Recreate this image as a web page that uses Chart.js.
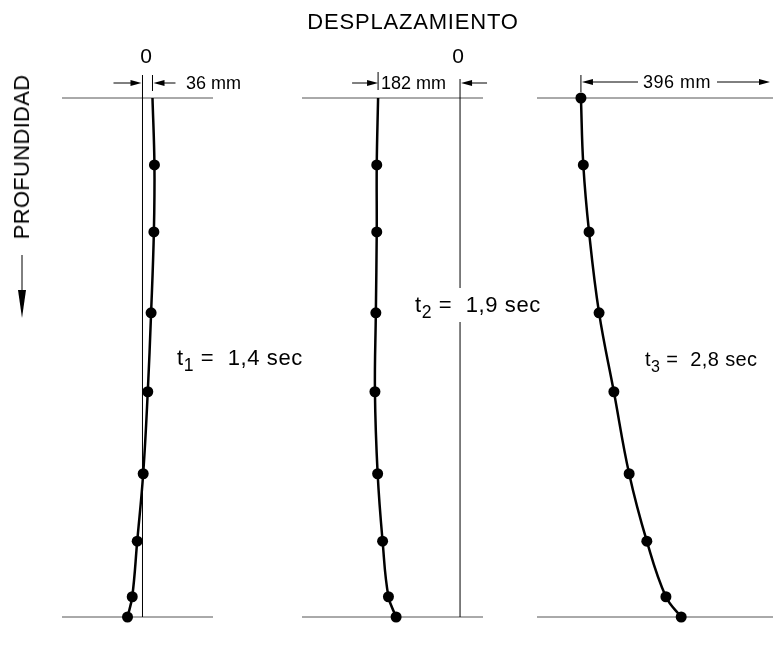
<!DOCTYPE html>
<html>
<head>
<meta charset="utf-8">
<script src="https://cdn.jsdelivr.net/npm/chart.js@4.4.1/dist/chart.umd.min.js"></script>
<style>
  body { margin: 0; background: #fff; }
  #wrap { position: relative; width: 773px; height: 645px; overflow: hidden; font-family: "Liberation Sans", Arial, sans-serif; color: #000; }
  #wrap canvas { position: absolute; left: 0; top: 0; }
  .lbl { position: absolute; white-space: nowrap; line-height: 1; }
  .lbl sub { font-size: 0.8em; vertical-align: -0.35em; line-height: 0; }
</style>
</head>
<body>
<div id="wrap">
  <canvas id="c1" width="773" height="645"></canvas>
  <canvas id="c2" width="773" height="645"></canvas>
  <canvas id="c3" width="773" height="645"></canvas>
</div>
<script>
// depth (0 = top, 100 = bottom) of each reading
const depths = [0, 12.9, 25.8, 41.4, 56.6, 72.4, 85.4, 96.1, 100];
// displacement in mm for each instant
const desp1 = [36, 43, 41, 31, 19, 2.5, -19, -37, -54];
const desp2 = [-182, -185, -185, -187, -189, -183, -172, -159, -142];
const desp3 = [-396, -391, -379, -358, -327, -295, -258, -218, -186];
const tiempos = ['1,4', '1,9', '2,8'];

const W = 773, H = 645;
const wrap = document.getElementById('wrap');

function label(html, x, baseline, size, center, extra) {
  const d = document.createElement('div');
  d.className = 'lbl';
  d.innerHTML = html;
  d.style.fontSize = size + 'px';
  d.style.left = x + 'px';
  d.style.top = (baseline - 0.847 * size) + 'px';
  if (center) d.style.transform = 'translateX(-50%)';
  if (extra) Object.assign(d.style, extra);
  wrap.appendChild(d);
  return d;
}

function arrow(ctx, x1, x2, y) {
  // line from x1 to x2, arrow head at x2
  const d = x2 > x1 ? 1 : -1;
  ctx.beginPath();
  ctx.moveTo(x1, y);
  ctx.lineTo(x2 - d * 8, y);
  ctx.stroke();
  ctx.beginPath();
  ctx.moveTo(x2, y);
  ctx.lineTo(x2 - d * 11, y - 3);
  ctx.lineTo(x2 - d * 11, y + 3);
  ctx.closePath();
  ctx.fill();
}

function vline(ctx, x, y1, y2) {
  ctx.beginPath();
  ctx.moveTo(x, y1);
  ctx.lineTo(x, y2);
  ctx.stroke();
}

// right edge of panel 3 stops short of the canvas because Chart.js keeps
// a little room for the points there; the frame lines still run to 773
const panels = [
  {
    id: 'c1', values: desp1, left: 62, right: 213, min: -290, max: 254, lineEnd: 213,
    markers: false, zeroFrom: 75, tick: [75, 91],
    dim: (ctx, x0, xt) => { arrow(ctx, x0 - 29, x0 - 1, 83); arrow(ctx, xt + 23, xt + 1, 83); }
  },
  {
    id: 'c2', values: desp2, left: 302, right: 483, min: -351, max: 51, lineEnd: 483,
    markers: false, zeroFrom: 79, tick: [72, 90],
    dim: (ctx, x0, xt) => { arrow(ctx, xt - 26, xt, 83); arrow(ctx, x0 + 27, x0 + 1, 83); }
  },
  {
    id: 'c3', values: desp3, left: 537, right: 765, min: -488, max: -10.5, lineEnd: 773,
    markers: true, zeroFrom: null, tick: [75, 92],
    dim: (ctx, x0, xt) => { arrow(ctx, 638, xt + 1, 82); arrow(ctx, 717, x0, 82); }
  }
];

panels.forEach((p, i) => {
  const frame = {
    id: 'frame' + i,
    beforeDatasetsDraw(chart) {
      const { ctx, chartArea: a, scales: { x, y } } = chart;
      const yTop = y.getPixelForValue(0), yBot = y.getPixelForValue(100);
      const x0 = x.getPixelForValue(0), xt = x.getPixelForValue(p.values[0]);
      ctx.save();
      ctx.lineWidth = 1;
      ctx.strokeStyle = '#555';
      ctx.beginPath();
      ctx.moveTo(a.left, yTop); ctx.lineTo(p.lineEnd, yTop);
      ctx.moveTo(a.left, yBot); ctx.lineTo(p.lineEnd, yBot);
      ctx.stroke();
      ctx.strokeStyle = '#000';
      ctx.fillStyle = '#000';
      if (p.zeroFrom !== null) vline(ctx, x0, p.zeroFrom, yBot);
      vline(ctx, xt, p.tick[0], p.tick[1]);
      p.dim(ctx, x0, xt);
      if (i === 0) {
        // depth arrow next to PROFUNDIDAD
        vline(ctx, 22, 255, 292);
        ctx.beginPath();
        ctx.moveTo(22, 318); ctx.lineTo(18, 290); ctx.lineTo(26, 290);
        ctx.closePath(); ctx.fill();
      }
      ctx.restore();
    }
  };

  new Chart(document.getElementById(p.id), {
    type: 'scatter',
    data: {
      datasets: [{
        data: depths.map((d, k) => ({ x: p.values[k], y: d })),
        showLine: true,
        borderColor: '#000',
        backgroundColor: '#000',
        borderWidth: 2.5,
        tension: 0.4,
        pointRadius: depths.map((d, k) => (k === 0 && !p.markers) ? 0 : 5.5),
        pointBorderWidth: 0,
        clip: false
      }]
    },
    options: {
      responsive: false,
      animation: false,
      devicePixelRatio: 1,
      layout: { padding: { left: p.left, right: W - p.right, top: 98, bottom: H - 617 } },
      plugins: { legend: { display: false }, tooltip: { enabled: false } },
      scales: {
        x: { type: 'linear', min: p.min, max: p.max, display: false },
        y: { type: 'linear', min: 0, max: 100, reverse: true, display: false }
      }
    },
    plugins: [frame]
  });
});

// texts
label('DESPLAZAMIENTO', 413, 30, 22, true, { letterSpacing: '0.8px' });
label('0', 146, 63, 21, true);
label('0', 458, 63, 21, true);
label(Math.abs(desp1[0]) + ' mm', 186, 89, 18);
label(Math.abs(desp2[0]) + ' mm', 381, 89, 18);
label(Math.abs(desp3[0]) + ' mm', 643, 88, 18, false, { letterSpacing: '0.5px' });
const tStyle = { letterSpacing: '0.6px' };
label('t<sub>1</sub> =&nbsp; ' + tiempos[0] + ' sec', 177, 366, 22, false, tStyle);
label('t<sub>2</sub> =&nbsp; ' + tiempos[1] + ' sec', 415, 313, 22, false,
  { letterSpacing: '0.6px', background: '#fff', padding: '6px 0', marginTop: '-6px' });
label('t<sub>3</sub> =&nbsp; ' + tiempos[2] + ' sec', 645, 366, 20, false, { letterSpacing: '0.4px' });
label('PROFUNDIDAD', 22, 157 + 0.847 * 22 - 11, 22, false,
  { letterSpacing: '0.3px', transform: 'translate(-50%, 0) rotate(-90deg)' });
</script>
</body>
</html>
